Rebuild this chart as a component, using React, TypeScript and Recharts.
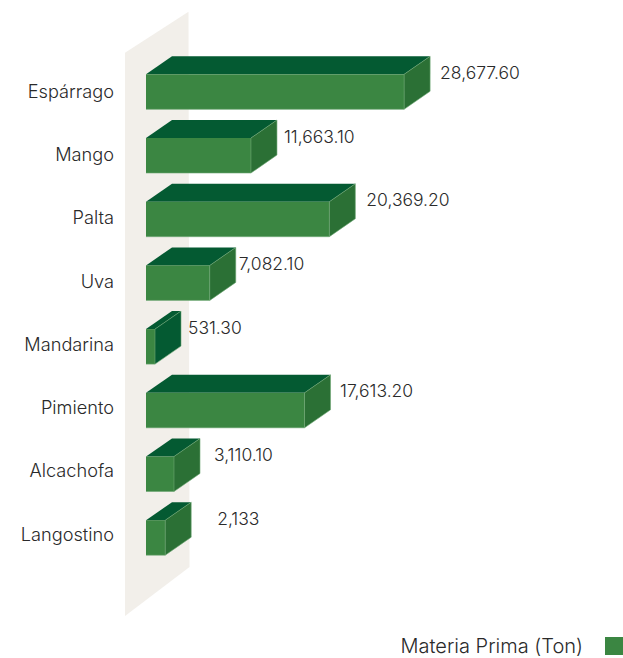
import React from "react";
import { BarChart, Bar, XAxis, YAxis, LabelList, Legend, ReferenceArea } from "recharts";

const categories = ["Espárrago", "Mango", "Palta", "Uva", "Mandarina", "Pimiento", "Alcachofa", "Langostino"];
const tons = [28677.6, 11663.1, 20369.2, 7082.1, 531.3, 17613.2, 3110.1, 2133];
const printedLabels = ["28,677.60", "11,663.10", "20,369.20", "7,082.10", "531.30", "17,613.20", "3,110.10", "2,133"];
const seriesName = "Materia Prima (Ton)";

const rows = categories.map((name, i) => ({ name, tons: tons[i], printed: printedLabels[i] }));

const labelGaps = [10, 7, 11, 3, 7, 9.5, 14, 26];
const FONT = "Inter, 'Liberation Sans', sans-serif";
const TEXT = "#2a2a2a";
const FRONT = "#3b8642";
const TOP = "#045a32";
const SIDE = "#2b7035";
const EDGE = "#6ba672";
const DEPTH_X = 26;
const DEPTH_Y = 18;

function Box3D(props: any) {
  const { x, y, width, height, index } = props;
  const sideFill = index === 4 ? TOP : SIDE;
  const dx = DEPTH_X;
  const dy = DEPTH_Y;
  return (
    <g>
      <polygon
        points={`${x},${y} ${x + dx},${y - dy} ${x + width + dx},${y - dy} ${x + width},${y}`}
        fill={TOP}
      />
      <polygon
        points={`${x + width},${y} ${x + width + dx},${y - dy} ${x + width + dx},${y - dy + height} ${x + width},${y + height}`}
        fill={sideFill}
      />
      <rect x={x} y={y} width={width} height={height} fill={FRONT} />
      <path
        d={`M${x},${y + height} H${x + width} V${y} L${x + width + dx},${y - dy} V${y - dy + height} L${x + width},${y + height}`}
        fill="none"
        stroke={EDGE}
        strokeWidth={0.6}
      />
    </g>
  );
}

function Wall(props: any) {
  const { x, y, width, height } = props;
  const left = x - 21;
  const right = x + width + 2;
  const points = `${left},${y - 7.6} ${right},${y - 48.6} ${right + 1},${y + height - 3} ${left},${y + height + 46}`;
  return <polygon points={points} fill="#f2efea" />;
}

function CategoryTick(props: any) {
  const { x, y, payload, index } = props;
  return (
    <text
      x={x}
      y={y - 0.6 - index * 0.45}
      dy="0.35em"
      textAnchor="end"
      fontFamily={FONT}
      fontWeight={300}
      fontSize={18.2}
      fill={TEXT}
    >
      {payload.value}
    </text>
  );
}

function ValueLabel(props: any) {
  const { x, y, width, index } = props;
  return (
    <text
      x={x + width + DEPTH_X + labelGaps[index]}
      y={y - 1.6}
      dy="0.35em"
      fontFamily={FONT}
      fontWeight={300}
      fontSize={17.5}
      fill={TEXT}
    >
      {printedLabels[index]}
    </text>
  );
}

function LegendBox({ payload }: any) {
  const item = payload && payload[0];
  return (
    <div
      style={{
        position: "absolute",
        right: 0,
        top: 636,
        display: "flex",
        alignItems: "center",
        whiteSpace: "nowrap",
        fontFamily: FONT,
        fontWeight: 300,
        fontSize: 20,
        color: TEXT,
        lineHeight: "20px",
      }}
    >
      <span>{item ? item.value : seriesName}</span>
      <span style={{ display: "inline-block", width: 18, height: 18, marginLeft: 22, background: FRONT }} />
    </div>
  );
}

export default function App() {
  return (
    <div style={{ position: "absolute", left: 0, top: 0, width: 623, height: 658 }}>
      <BarChart
        width={623}
        height={658}
        layout="vertical"
        data={rows}
        margin={{ top: 60.3, right: 27, bottom: 88.1, left: 0 }}
        barSize={35}
      >
        <XAxis type="number" domain={[0, 50000]} hide />
        <YAxis
          type="category"
          dataKey="name"
          width={146}
          axisLine={false}
          tickLine={false}
          tickMargin={26}
          tick={<CategoryTick />}
          interval={0}
        />
        <ReferenceArea x1={0} x2={4500} ifOverflow="visible" shape={<Wall />} />
        <Bar dataKey="tons" name={seriesName} fill={FRONT} shape={<Box3D />} minPointSize={9} isAnimationActive={false}>
          <LabelList dataKey="printed" content={<ValueLabel />} />
        </Bar>
        <Legend
          content={<LegendBox />}
          wrapperStyle={{ position: "absolute", left: 0, top: 0, bottom: "auto", width: 623, height: 0 }}
        />
      </BarChart>
    </div>
  );
}
